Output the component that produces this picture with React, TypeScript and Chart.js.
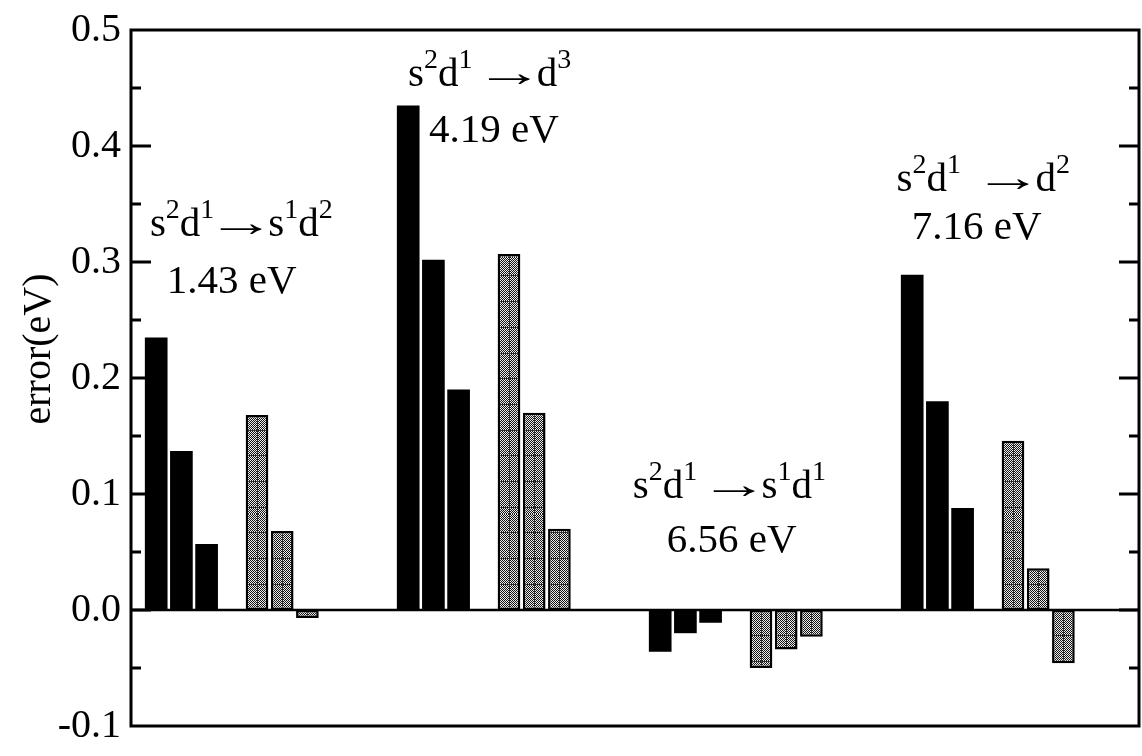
import React, { useEffect, useRef } from 'react';
import { Chart, registerables } from 'chart.js';

Chart.register(...registerables);

// ---- data ----
const transitionLabels = ['s^2d^1→s^1d^2', 's^2d^1 →d^3', 's^2d^1 →s^1d^1', 's^2d^1  →d^2'];
const energyLabels = ['1.43 eV', '4.19 eV', '6.56 eV', '7.16 eV'];
const solidErrors = [0.235, 0.137, 0.057, 0.435, 0.302, 0.19, -0.036, -0.02, -0.011, 0.289, 0.18, 0.088];
const patternErrors = [0.168, 0.068, -0.007, 0.307, 0.17, 0.07, -0.05, -0.034, -0.023, 0.146, 0.036, -0.046];
const yTickValues = [-0.1, 0.0, 0.1, 0.2, 0.3, 0.4, 0.5];

// layout of the x axis (slot units)
const barsPerSet = 3;
const groupSpan = 10;
const solidOffset = 1;
const patternOffset = 5;
const xMin = 0;
const xMax = 40;
const yMin = -0.1;
const yMax = 0.5;
const yMinorStep = 0.05;

// anchors for the annotation text, in data units (left edge, baseline)
const transitionAnchorX = [0.75, 10.99, 19.91, 30.38];
const transitionAnchorY = [0.3226, 0.4516, 0.0963, 0.3609];
const energyAnchorX = [1.42, 11.83, 21.26, 30.98];
const energyAnchorY = [0.2731, 0.4031, 0.0496, 0.3198];

const FONT = "'Liberation Serif', 'Times New Roman', serif";

const toPoints = (vals: number[], offset: number) =>
  vals.map((v, i) => ({
    x: Math.floor(i / barsPerSet) * groupSpan + offset + (i % barsPerSet),
    y: v,
  }));

const isMajor = (v: number) => Math.abs(v * 10 - Math.round(v * 10)) < 1e-6;

const patternCache = new WeakMap<any, any>();
function getPattern(chart: any) {
  const xs = chart.scales?.x;
  const ys = chart.scales?.y;
  if (!xs || !ys) return '#888';
  const x0 = xs.getPixelForValue(0);
  const slot = xs.getPixelForValue(1) - x0;
  const y0 = ys.getPixelForValue(0);
  if (!isFinite(x0) || !isFinite(slot) || slot <= 0 || !isFinite(y0)) return '#888';
  const key = `${x0}|${slot}|${y0}`;
  const cached = patternCache.get(chart);
  if (cached && cached.key === key) return cached.pattern;
  const W = Math.max(1, Math.round(slot * 10));
  const rowH = 25.7;
  const H = Math.round(rowH * 10);
  const tile = document.createElement('canvas');
  tile.width = W;
  tile.height = H;
  const t = tile.getContext('2d')!;
  const img = t.createImageData(W, H);
  for (let y = 0; y < H; y++) {
    for (let x = 0; x < W; x++) {
      const idx = (y * W + x) * 4;
      const on = (x + y) % 2 === 0;
      const c = on ? 20 : 235;
      img.data[idx] = c;
      img.data[idx + 1] = c;
      img.data[idx + 2] = c;
      img.data[idx + 3] = 255;
    }
  }
  t.putImageData(img, 0, 0);
  t.fillStyle = '#303030';
  const slotW = W / 10;
  for (let k = 0; k < 10; k++) {
    const lx = (((x0 + k * slotW) % W) + W) % W;
    t.fillRect(Math.floor(lx), 0, 1, H);
    const ly = (((y0 + k * rowH) % H) + H) % H;
    t.fillRect(0, Math.floor(ly), W, 1);
  }
  const pattern = chart.ctx.createPattern(tile, 'repeat');
  patternCache.set(chart, { key, pattern });
  return pattern;
}

function drawRich(ctx: CanvasRenderingContext2D, text: string, x: number, y: number) {
  const base = `41px ${FONT}`;
  const sup = `28px ${FONT}`;
  const arrowGapBefore = 6;
  const arrowGapAfter = 6;
  const arrowInkWidth = 42;
  let cx = x;
  ctx.textAlign = 'left';
  ctx.textBaseline = 'alphabetic';
  for (let i = 0; i < text.length; i++) {
    const ch = text[i];
    if (ch === '^' && i + 1 < text.length) {
      const s = text[i + 1];
      ctx.font = sup;
      ctx.fillText(s, cx, y - 18);
      cx += ctx.measureText(s).width;
      i++;
    } else if (ch === '→') {
      ctx.font = base;
      const m = ctx.measureText(ch);
      const inkL = m.actualBoundingBoxLeft || 0;
      const inkR = m.actualBoundingBoxRight || m.width;
      const inkW = Math.max(1, inkL + inkR);
      const stretch = arrowInkWidth / inkW;
      const inkStart = cx + arrowGapBefore;
      ctx.save();
      ctx.translate(inkStart + inkL * stretch, y);
      ctx.scale(stretch, 1);
      ctx.fillText(ch, 0, 0);
      ctx.restore();
      cx = inkStart + arrowInkWidth + arrowGapAfter;
    } else {
      ctx.font = base;
      ctx.fillText(ch, cx, y);
      cx += ctx.measureText(ch).width;
    }
  }
}

const overlayPlugin = {
  id: 'overlay',
  beforeDatasetsDraw(chart: any) {
    const { ctx, chartArea: a, scales } = chart;
    const ys = scales.y;
    ctx.save();
    ctx.strokeStyle = '#000';
    ctx.lineWidth = 3;
    ys.ticks.forEach((t: any) => {
      const v = t.value;
      if (v <= yMin + 1e-9 || v >= yMax - 1e-9) return;
      const p = ys.getPixelForValue(v);
      const len = isMajor(v) ? 20 : 10;
      ctx.beginPath();
      ctx.moveTo(a.left, p);
      ctx.lineTo(a.left + len, p);
      ctx.moveTo(a.right, p);
      ctx.lineTo(a.right - len, p);
      ctx.stroke();
    });
    ctx.restore();
  },
  afterDatasetsDraw(chart: any) {
    const { ctx, chartArea: a, scales } = chart;
    const xs = scales.x;
    const ys = scales.y;
    ctx.save();
    ctx.strokeStyle = '#000';
    // zero line
    const z = ys.getPixelForValue(0);
    ctx.lineWidth = 2.5;
    ctx.beginPath();
    ctx.moveTo(a.left, z);
    ctx.lineTo(a.right, z);
    ctx.stroke();
    // frame
    ctx.lineWidth = 3;
    ctx.strokeRect(a.left, a.top, a.right - a.left, a.bottom - a.top);
    // annotations
    ctx.fillStyle = '#000';
    transitionLabels.forEach((label, i) => {
      drawRich(ctx, label, xs.getPixelForValue(transitionAnchorX[i]), ys.getPixelForValue(transitionAnchorY[i]));
      ctx.font = `41px ${FONT}`;
      ctx.textAlign = 'left';
      ctx.textBaseline = 'alphabetic';
      ctx.fillText(energyLabels[i], xs.getPixelForValue(energyAnchorX[i]), ys.getPixelForValue(energyAnchorY[i]));
    });
    // y axis title
    ctx.save();
    ctx.translate(50, (a.top + a.bottom) / 2 - 29);
    ctx.rotate(-Math.PI / 2);
    ctx.font = `40px ${FONT}`;
    ctx.textAlign = 'center';
    ctx.textBaseline = 'alphabetic';
    ctx.fillText('error(eV)', 0, 0);
    ctx.restore();
    ctx.restore();
  },
};

export default function App() {
  const canvasRef = useRef<HTMLCanvasElement | null>(null);

  useEffect(() => {
    if (!canvasRef.current) return;
    const chart = new Chart(canvasRef.current, {
      type: 'bar',
      data: {
        datasets: [
          {
            label: 'solid',
            data: toPoints(solidErrors, solidOffset) as any,
            backgroundColor: '#000',
            borderWidth: 0,
            grouped: false,
            categoryPercentage: 1,
            barPercentage: 0.9,
          },
          {
            label: 'pattern',
            data: toPoints(patternErrors, patternOffset) as any,
            backgroundColor: (c: any) => getPattern(c.chart),
            borderColor: '#000',
            borderWidth: 2.5,
            borderSkipped: false,
            grouped: false,
            categoryPercentage: 1,
            barPercentage: 0.9,
          },
        ],
      },
      options: {
        animation: false,
        responsive: false,
        maintainAspectRatio: false,
        layout: { padding: { left: 0, right: 3, top: 28, bottom: 22 } },
        plugins: {
          legend: { display: false },
          tooltip: { enabled: false },
        },
        scales: {
          x: {
            type: 'linear',
            min: xMin,
            max: xMax,
            offset: false,
            grid: { offset: false },
            display: false,
          },
          y: {
            type: 'linear',
            min: yMin,
            max: yMax,
            afterFit: (s: any) => {
              s.width = 131;
            },
            grid: { display: false, drawTicks: false },
            border: { display: false },
            ticks: {
              stepSize: yMinorStep,
              autoSkip: false,
              padding: 10,
              color: '#000',
              font: { family: FONT, size: 40, lineHeight: 1 },
              callback: (v: any) => {
                const n = Number(v);
                const hit = yTickValues.find((t) => Math.abs(t - n) < 1e-6);
                return hit === undefined ? '' : hit.toFixed(1);
              },
            },
          },
        },
      } as any,
      plugins: [overlayPlugin],
    });
    return () => chart.destroy();
  }, []);

  return (
    <div style={{ position: 'fixed', left: 0, top: 0, width: 1142, height: 756, background: '#fff' }}>
      <canvas ref={canvasRef} width={1142} height={756} style={{ display: 'block' }} />
    </div>
  );
}
